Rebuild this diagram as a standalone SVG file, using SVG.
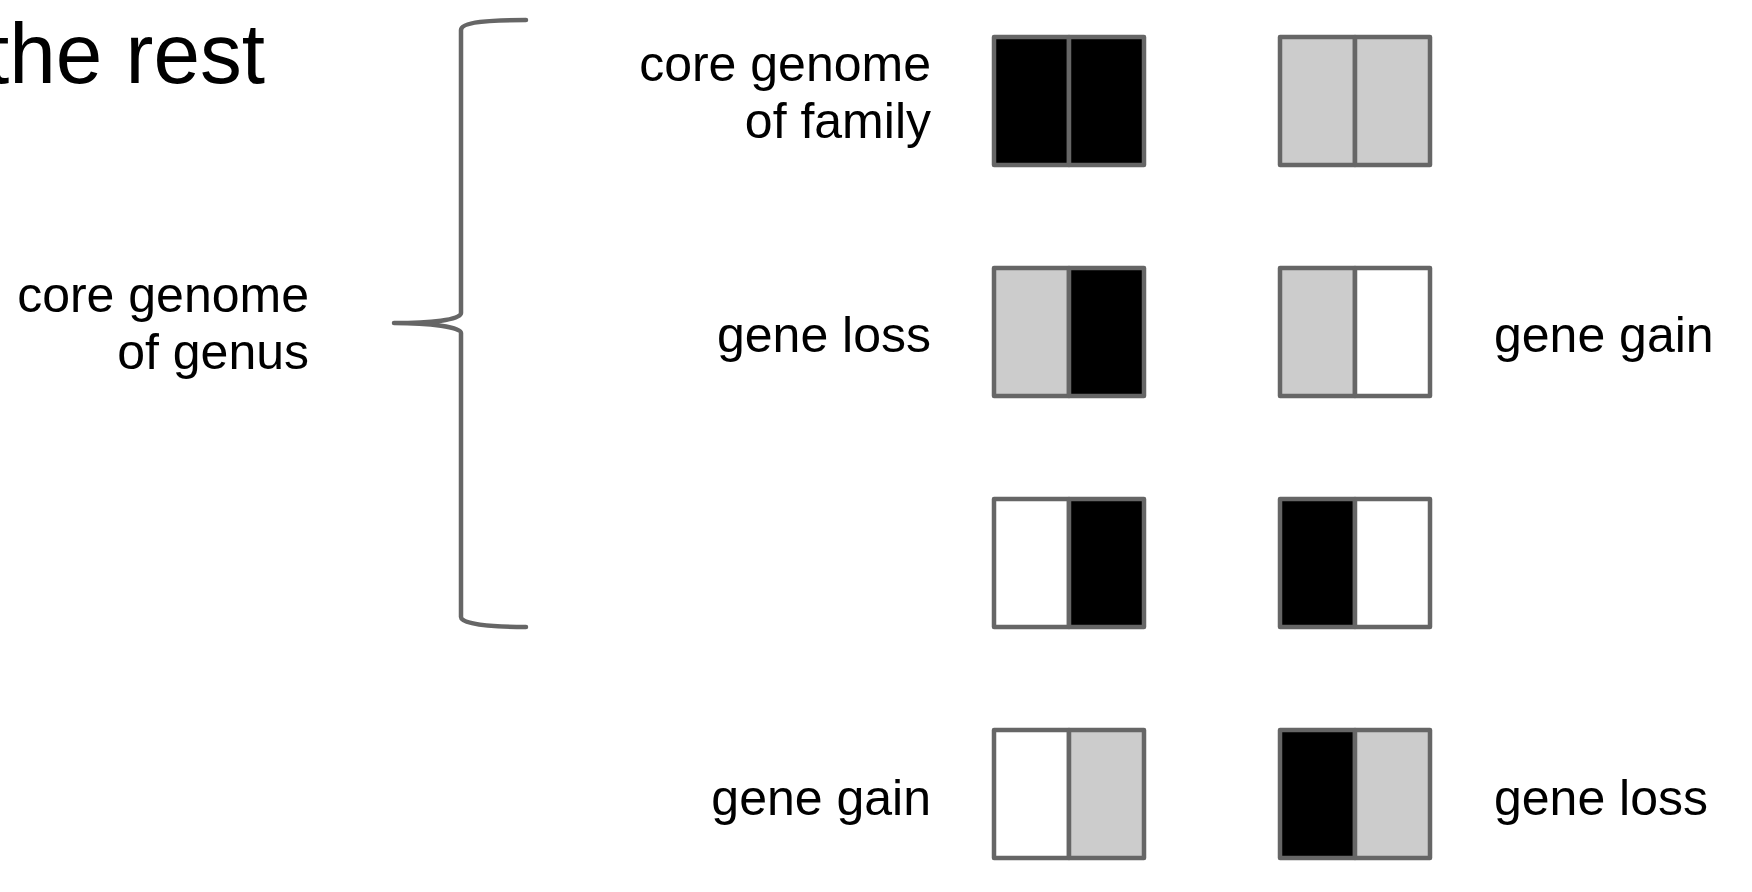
<svg xmlns="http://www.w3.org/2000/svg" width="1752" height="892" viewBox="0 0 1752 892">
<style>
text{font-family:"Liberation Sans",Arial,sans-serif;fill:#000}
.lbl{font-size:50px}
.r{text-anchor:end}
.cell{stroke:#666;stroke-width:4.5;stroke-linejoin:round}
.k{fill:#000}.g{fill:#ccc}.w{fill:#fff}
.br{fill:none;stroke:#666;stroke-width:4.5;stroke-linecap:round;stroke-linejoin:round}
</style>
<rect width="1752" height="892" fill="#fff"/>
<text id="title" x="-14" y="83" font-size="86" textLength="279" lengthAdjust="spacingAndGlyphs">the rest</text>
<g id="genus-label"><text class="lbl r" x="309" y="312">core genome</text><text class="lbl r" x="309" y="369">of genus</text></g>
<g id="connectors"><path class="br" d="M526,20 C490,20 461,22 461,30 L461,313 C461,320 430,323 394,323 C430,323 461,327 461,333 L461,617 C461,624 490,627 526,627"/></g>
<g id="family-label"><text class="lbl r" x="931" y="81">core genome</text><text class="lbl r" x="931" y="138">of family</text></g>
<g id="row1-left"><rect class="cell k" x="994" y="37" width="75" height="128"/><rect class="cell k" x="1069" y="37" width="75" height="128"/></g>
<g id="row1-right"><rect class="cell g" x="1280" y="37" width="75" height="128"/><rect class="cell g" x="1355" y="37" width="75" height="128"/></g>
<text id="row2-left-label" class="lbl r" x="931" y="352">gene loss</text>
<g id="row2-left"><rect class="cell g" x="994" y="268" width="75" height="128"/><rect class="cell k" x="1069" y="268" width="75" height="128"/></g>
<g id="row2-right"><rect class="cell g" x="1280" y="268" width="75" height="128"/><rect class="cell w" x="1355" y="268" width="75" height="128"/></g>
<text id="row2-right-label" class="lbl" x="1494" y="352">gene gain</text>
<g id="row3-left"><rect class="cell w" x="994" y="499" width="75" height="128"/><rect class="cell k" x="1069" y="499" width="75" height="128"/></g>
<g id="row3-right"><rect class="cell k" x="1280" y="499" width="75" height="128"/><rect class="cell w" x="1355" y="499" width="75" height="128"/></g>
<text id="row4-left-label" class="lbl r" x="931" y="815">gene gain</text>
<g id="row4-left"><rect class="cell w" x="994" y="730" width="75" height="128"/><rect class="cell g" x="1069" y="730" width="75" height="128"/></g>
<g id="row4-right"><rect class="cell k" x="1280" y="730" width="75" height="128"/><rect class="cell g" x="1355" y="730" width="75" height="128"/></g>
<text id="row4-right-label" class="lbl" x="1494" y="815">gene loss</text>
</svg>
